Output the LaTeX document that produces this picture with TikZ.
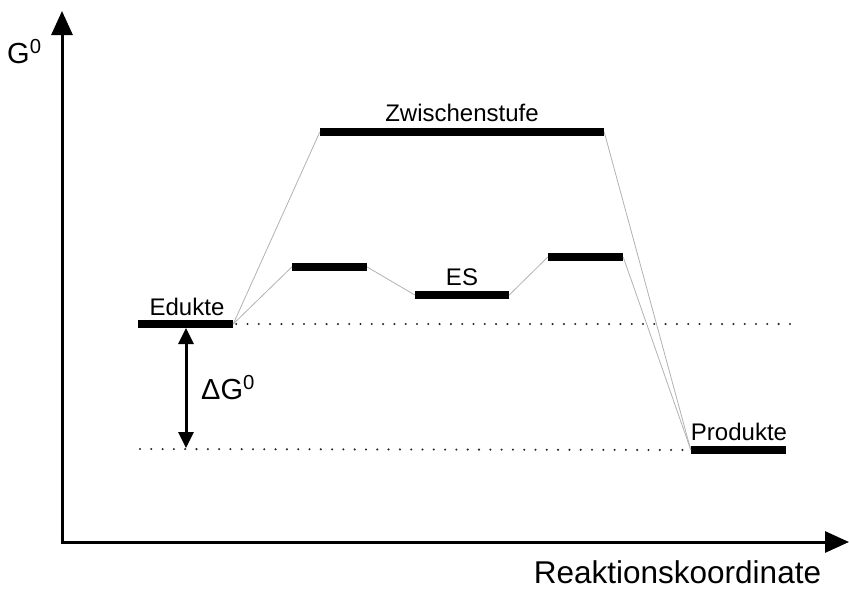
\documentclass[tikz,border=0pt]{standalone}
\usepackage{fontspec}
\setmainfont{Liberation Sans}
\usetikzlibrary{arrows.meta}
\begin{document}
\begin{tikzpicture}[x=1pt,y=-1pt,
  level/.style={draw=none,fill=black,rectangle,inner sep=0pt,minimum height=7.5pt},
  lbl/.style={inner sep=0pt,font=\fontsize{24}{28}\selectfont},
  link/.style={draw=black!30,line width=0.8pt},
  guide/.style={draw=black!85,line width=2.3pt,line cap=round,dash pattern=on 0pt off 11.3pt},
  axis/.style={line width=3pt,-{Triangle[length=24pt,width=21pt]}},
  span/.style={line width=3pt,{Triangle[length=16pt,width=15pt]}-{Triangle[length=16pt,width=15pt]}}]
  \useasboundingbox (0,0) rectangle (849,590);

  % axes
  \coordinate (origin) at (62,542);
  \coordinate (ytip) at (62,11);
  \coordinate (xtip) at (849,542);
  \draw[axis] (origin) -- (ytip);
  \draw[axis] ([xshift=-1.5pt]origin) -- (xtip);
  \node[lbl,anchor=base west,font=\fontsize{29}{34}\selectfont] (glabel) at (7,63) {G\textsuperscript{0}};
  \node[lbl,anchor=base,font=\fontsize{31.5}{36}\selectfont] (xlabel) at (677.5,583) {Reaktionskoordinate};

  % energy levels
  \node[level,minimum width=95pt] (edukt) at (185.5,324) {};
  \node[level,minimum width=284pt] (zw) at (462,132) {};
  \node[level,minimum width=75pt] (ts1) at (329.5,267) {};
  \node[level,minimum width=94pt] (es) at (462,295) {};
  \node[level,minimum width=75pt] (ts2) at (585.5,257) {};
  \node[level,minimum width=95pt] (prod) at (738.5,450) {};

  % level labels
  \node[lbl] (eduktlbl) at (187,307) {Edukte};
  \node[lbl] (zwlbl) at (462,113) {Zwischenstufe};
  \node[lbl] (eslbl) at (462,277) {ES};
  \node[lbl] (prodlbl) at (739,432) {Produkte};

  % reaction paths
  \draw[link] (edukt.east) -- (zw.west);
  \draw[link] (zw.east) -- (prod.west);
  \draw[link] (edukt.east) -- (ts1.west);
  \draw[link] (ts1.east) -- (es.west);
  \draw[link] (es.east) -- (ts2.west);
  \draw[link] (ts2.east) -- (prod.west);

  % reference levels
  \coordinate (upR) at (790,324);
  \coordinate (lowL) at (140,449);
  \draw[guide] ([xshift=3pt]edukt.east) -- (upR);
  \draw[guide] (lowL) -- (prod.west);

  % free energy difference
  \coordinate (dgTop) at (186,328);
  \coordinate (dgBot) at (186,448);
  \draw[span] (dgTop) -- (dgBot);
  \node[lbl,anchor=base west,font=\fontsize{29}{34}\selectfont] (dglbl) at (201,399) {ΔG\textsuperscript{0}};
\end{tikzpicture}
\end{document}
